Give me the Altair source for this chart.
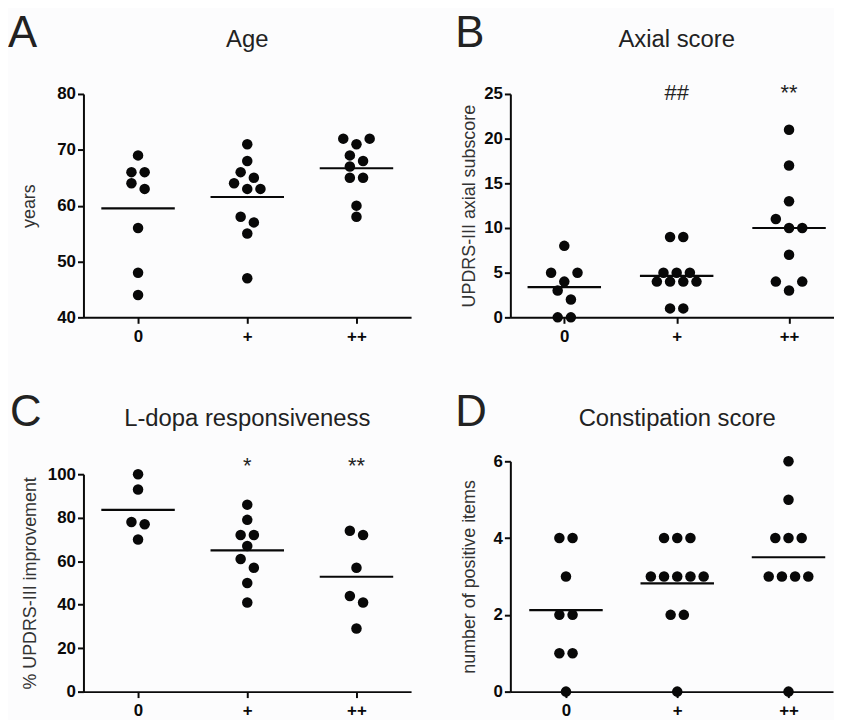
import altair as alt
import pandas as pd
import numpy as np

FONT = "Liberation Sans"

group_labels = ["0", "+", "++"]

# Panel A: Age (years)
age_0 = [69, 66, 66, 64, 63, 56, 48, 44]
age_1 = [71, 68, 66, 65, 64, 63, 63, 58, 57, 55, 47]
age_2 = [72, 72, 71, 69, 68, 67, 65, 65, 60, 58]
age_ticks = [40, 50, 60, 70, 80]

# Panel B: Axial score
axial_0 = [8, 5, 5, 4, 3, 2, 0, 0]
axial_1 = [9, 9, 5, 5, 5, 4, 4, 4, 4, 1, 1]
axial_2 = [21, 17, 13, 11, 10, 10, 7, 4, 4, 3]
axial_ticks = [0, 5, 10, 15, 20, 25]
axial_marks = ["", "##", "**"]

# Panel C: L-dopa responsiveness
ldopa_0 = [100, 93, 78, 77, 70]
ldopa_1 = [86, 79, 72, 72, 67, 61, 57, 50, 41]
ldopa_2 = [74, 72, 57, 44, 41, 29]
ldopa_ticks = [0, 20, 40, 60, 80, 100]
ldopa_marks = ["", "*", "**"]

# Panel D: Constipation score
const_0 = [4, 4, 3, 2, 2, 1, 1, 0]
const_1 = [4, 4, 4, 3, 3, 3, 3, 3, 2, 2, 0]
const_2 = [6, 5, 4, 4, 4, 3, 3, 3, 3, 0]
const_ticks = [0, 2, 4, 6]

LABEL_EXPR = "datum.value == 0 ? '%s' : datum.value == 1 ? '%s' : '%s'" % tuple(group_labels)


def swarm(vals, ppu, xppu, step=13.3, dmin=10.0):
    """Prism-like dot spreading: near-equal values share a centred row."""
    order = sorted(range(len(vals)), key=lambda i: -vals[i])
    rows = []
    for i in order:
        v = vals[i]
        if rows:
            r = rows[-1]
            v0 = vals[r[0]]
            if v == v0 or ((v0 - v) * ppu < 10 and len(r) < 3):
                r.append(i)
                continue
        rows.append([i])
    placed = []
    off = [0.0] * len(vals)
    for r in rows:
        n = len(r)
        pos = [k - (n - 1) / 2 for k in range(n)]
        pos = sorted(pos, key=lambda p: (-abs(p), p))
        chosen = 0.0
        for shift in [0, -0.5, 0.5, -1, 1, -1.5, 1.5]:
            ok = True
            for idx, p in zip(r, pos):
                x = (p + shift) * step
                y = vals[idx] * ppu
                for (px, py) in placed:
                    if (x - px) ** 2 + (y - py) ** 2 < dmin ** 2:
                        ok = False
            if ok:
                chosen = shift
                break
        for idx, p in zip(r, pos):
            x = (p + chosen) * step
            off[idx] = x / xppu
            placed.append((x, vals[idx] * ppu))
    return off


def panel(series, ticks, ytitle, letter, title, marks, width, height, top_pad,
          xdom, letter_dx, head_y, mark_y, ytitle_x):
    ydom = [ticks[0], ticks[-1]]
    ppu = (height - top_pad) / (ydom[1] - ydom[0])
    xppu = width / (xdom[1] - xdom[0])
    rows = []
    for g, vals in enumerate(series):
        offs = swarm(vals, ppu, xppu)
        for v, o in zip(vals, offs):
            rows.append({"g": g, "x": g + o, "v": v})
    pts = pd.DataFrame(rows)
    hw = 37.0 / xppu
    means = pd.DataFrame({"g": [0, 1, 2], "m": [float(np.mean(v)) for v in series]})
    means["x1"] = means["g"] - hw
    means["x2"] = means["g"] + hw

    xscale = alt.Scale(domain=xdom, nice=False, zero=False)
    yscale = alt.Scale(domain=ydom, nice=False, zero=False, range=[height, top_pad])
    xaxis = alt.Axis(
        values=[0, 1, 2], labelExpr=LABEL_EXPR,
        title=None, grid=False, labelPadding=5,
    )
    yaxis = alt.Axis(
        values=ticks, format="d", title=ytitle, grid=False, labelPadding=2,
        titleX=ytitle_x, titleY=(height + top_pad) / 2, titleAngle=-90,
        titleAlign="center", titleBaseline="bottom",
    )

    points = alt.Chart(pts).mark_circle(size=112, opacity=1, color="#080808").encode(
        x=alt.X("x:Q", scale=xscale, axis=xaxis),
        y=alt.Y("v:Q", scale=yscale, axis=yaxis),
    )
    meanl = alt.Chart(means).mark_rule(color="#080808", strokeWidth=2.2).encode(
        x=alt.X("x1:Q", scale=xscale, axis=xaxis),
        x2="x2:Q",
        y=alt.Y("m:Q", scale=yscale, axis=yaxis),
    )
    layers = [points, meanl]

    ann = pd.DataFrame({"g": [0, 1, 2], "s": marks})
    ann = ann[ann["s"] != ""]
    if len(ann):
        layers.append(
            alt.Chart(ann).mark_text(
                baseline="top", align="center", fontSize=22, font=FONT, color="#222"
            ).encode(
                x=alt.X("g:Q", scale=xscale, axis=xaxis),
                y=alt.value(mark_y),
                text="s:N",
            )
        )

    head = pd.DataFrame({"letter": [letter], "title": [title]})
    layers.append(
        alt.Chart(head).mark_text(
            align="left", baseline="alphabetic", fontSize=44, font=FONT, color="#222"
        ).encode(x=alt.value(letter_dx), y=alt.value(head_y), text="letter:N")
    )
    layers.append(
        alt.Chart(head).mark_text(
            align="center", baseline="alphabetic", fontSize=24, font=FONT, color="#222"
        ).encode(x=alt.XDatum(1, scale=xscale, axis=xaxis), y=alt.value(head_y), text="title:N")
    )
    return alt.layer(*layers).properties(width=width, height=height)


pA = panel([age_0, age_1, age_2], age_ticks, "years", "A", "Age", ["", "", ""],
           330, 225, 0, [-0.5, 2.5], -76, -47, 0, -45.5)
pB = panel([axial_0, axial_1, axial_2], axial_ticks, "UPDRS-III axial subscore", "B",
           "Axial score", axial_marks, 326, 225, 0, [-0.48, 2.4], -55.5, -47, -11, -32)
pC = panel([ldopa_0, ldopa_1, ldopa_2], ldopa_ticks, "% UPDRS-III improvement", "C",
           "L-dopa responsiveness", ldopa_marks, 330, 232, 13, [-0.5, 2.5], -74, -36, -5, -44)
pD = panel([const_0, const_1, const_2], const_ticks, "number of positive items", "D",
           "Constipation score", ["", "", ""], 325, 232, 0, [-0.5, 2.4], -55.5, -36, 0, -32)

chart = alt.concat(
    pA, pB, pC, pD, columns=2,
    spacing={"row": 145, "column": 100},
    bounds="flush", align="each",
).properties(
    padding={"left": 0, "top": 2, "right": 0, "bottom": 0},
    background="#fcfcfd",
).configure_view(stroke=None).configure_axis(
    domainColor="#0a0a0a", domainWidth=2, tickColor="#0a0a0a", tickWidth=2, tickSize=6,
    labelFont=FONT, labelFontWeight="bold", labelFontSize=17, labelColor="#0a0a0a",
    titleFont=FONT, titleFontSize=18, titleFontWeight="normal", titleColor="#333",
)

chart.save("out.html", embed_options={"renderer": "svg", "actions": False})
